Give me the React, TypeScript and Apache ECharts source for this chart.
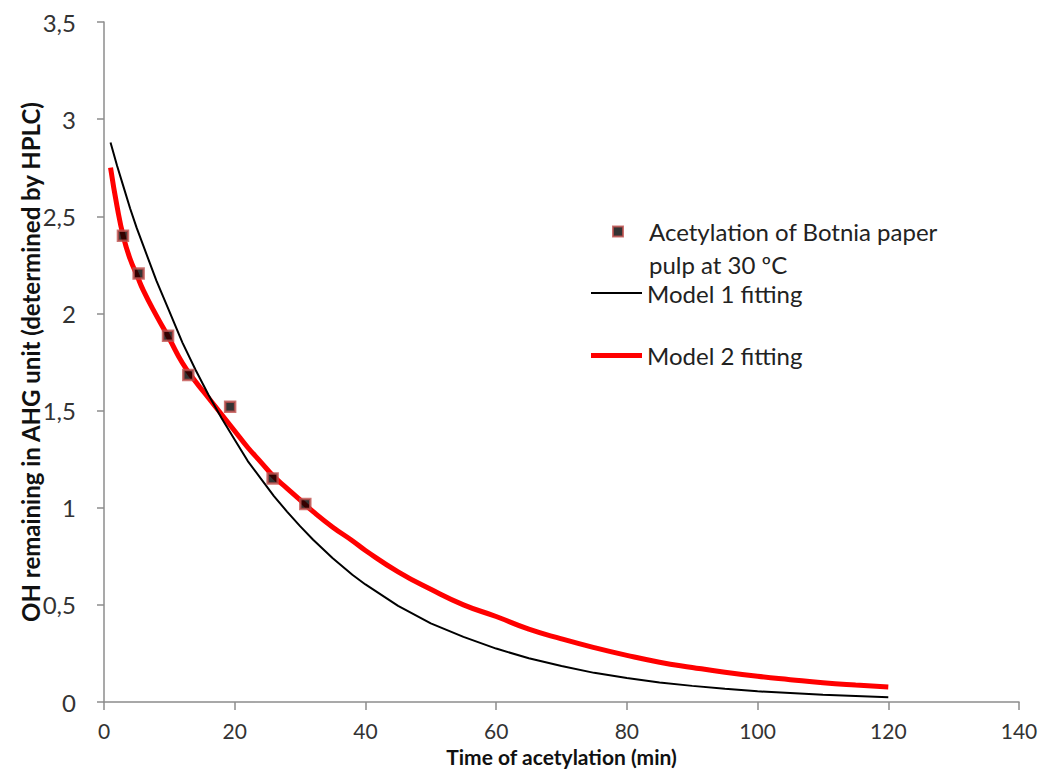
import React, { useEffect, useRef } from "react";
import * as echarts from "echarts";

// Experimental data: time (min), OH remaining
const expTimes = [2.9, 5.3, 9.8, 12.9, 19.3, 25.8, 30.8];
const expValues = [2.40, 2.205, 1.885, 1.683, 1.52, 1.151, 1.019];

// Model curves sampled (time, value)
const modelTimes = [1, 2, 3, 4, 5, 6, 8, 10, 12, 14, 16, 18, 20, 22, 24, 26, 28, 30, 32, 35, 38, 40, 45, 50, 55, 60, 65, 70, 75, 80, 85, 90, 95, 100, 105, 110, 115, 120];
const model1Values = [2.88, 2.76, 2.65, 2.54, 2.44, 2.35, 2.17, 2.01, 1.85, 1.71, 1.58, 1.46, 1.35, 1.24, 1.15, 1.06, 0.98, 0.905, 0.835, 0.74, 0.655, 0.605, 0.495, 0.405, 0.335, 0.275, 0.225, 0.185, 0.15, 0.123, 0.10, 0.083, 0.068, 0.055, 0.046, 0.037, 0.031, 0.025];
const model2Values = [2.75, 2.55, 2.39, 2.28, 2.20, 2.12, 1.99, 1.87, 1.745, 1.65, 1.565, 1.48, 1.395, 1.31, 1.235, 1.16, 1.10, 1.04, 0.98, 0.90, 0.83, 0.78, 0.67, 0.58, 0.50, 0.44, 0.375, 0.325, 0.28, 0.24, 0.205, 0.178, 0.153, 0.132, 0.115, 0.099, 0.087, 0.077];

const seriesNames = ["Acetylation of Botnia paper\npulp at 30 ºC", "Model 1 fitting", "Model 2 fitting"];
const xTitle = "Time of acetylation (min)";
const yTitle = "OH remaining in AHG unit (determined by HPLC)";

const FONT = "Lato, 'Open Sans', sans-serif";

export default function App() {
  const ref = useRef<HTMLDivElement>(null);
  useEffect(() => {
    if (!ref.current) return;
    const chart = echarts.init(ref.current, undefined, { renderer: "svg" });
    const axisColor = "#8c8c8c";
    chart.setOption({
      animation: false,
      backgroundColor: "#ffffff",
      textStyle: { fontFamily: FONT },
      grid: { left: 104, right: 26, top: 22, bottom: 67, containLabel: false, outerBoundsMode: "none" },
      legend: [
        {
          data: [seriesNames[0]],
          left: 612,
          top: 182,
          padding: 0,
          itemWidth: 10,
          itemHeight: 10,
          formatter: (name: string) => "\n" + name,
          textStyle: { fontFamily: FONT, fontSize: 24, color: "#222", lineHeight: 33, padding: [0, 0, 0, 21] },
        },
        {
          data: [{ name: seriesNames[1], icon: "rect" }],
          left: 591,
          top: 281,
          padding: 0,
          itemWidth: 51,
          itemHeight: 2,
          textStyle: { fontFamily: FONT, fontSize: 24, color: "#222" },
        },
        {
          data: [{ name: seriesNames[2], icon: "rect" }],
          left: 591,
          top: 343.5,
          padding: 0,
          itemWidth: 51,
          itemHeight: 5,
          textStyle: { fontFamily: FONT, fontSize: 24, color: "#222" },
        },
      ],
      xAxis: {
        type: "value",
        min: 0,
        max: 140,
        interval: 20,
        name: xTitle,
        nameLocation: "middle",
        nameGap: 45,
        nameMoveOverlap: false,
        nameTextStyle: { fontFamily: FONT, fontSize: 21, lineHeight: 18, fontWeight: "bold", color: "#111" },
        axisLine: { show: true, lineStyle: { color: axisColor, width: 1.5 } },
        axisTick: { show: true, inside: false, length: 8, lineStyle: { color: axisColor, width: 1.5 } },
        axisLabel: { fontFamily: FONT, fontSize: 21, lineHeight: 18, color: "#333", margin: 19 },
        splitLine: { show: false },
      },
      yAxis: {
        type: "value",
        min: 0,
        max: 3.5,
        interval: 0.5,
        name: yTitle,
        nameLocation: "middle",
        nameGap: 62,
        nameRotate: 90,
        nameMoveOverlap: false,
        nameTextStyle: { fontFamily: FONT, fontSize: 24, fontWeight: "bold", color: "#111" },
        axisLine: { show: true, lineStyle: { color: axisColor, width: 1.5 } },
        axisTick: { show: true, inside: false, length: 7, lineStyle: { color: axisColor, width: 1.5 } },
        axisLabel: {
          fontFamily: FONT,
          fontSize: 24,
          color: "#333",
          margin: 28,
          formatter: (v: number) => String(v).replace(".", ","),
        },
        splitLine: { show: false },
      },
      series: [
        {
          name: seriesNames[2],
          type: "line",
          data: modelTimes.map((t, i) => [t, model2Values[i]]),
          symbol: "none",
          smooth: true,
          lineStyle: { color: "#ff0000", width: 5 },
          itemStyle: { color: "#ff0000" },
          z: 2,
        },
        {
          name: seriesNames[1],
          type: "line",
          data: modelTimes.map((t, i) => [t, model1Values[i]]),
          symbol: "none",
          lineStyle: { color: "#000000", width: 2 },
          itemStyle: { color: "#000000" },
          z: 3,
        },
        {
          name: seriesNames[0],
          type: "scatter",
          data: expTimes.map((t, i) => [t, expValues[i]]),
          symbol: "rect",
          symbolSize: 10,
          itemStyle: { color: "#000000", borderColor: "#c0504d", borderWidth: 2.5 },
          z: 4,
        },
      ],
    });
    return () => chart.dispose();
  }, []);
  return (
    <div
      ref={ref}
      style={{ position: "absolute", left: 0, top: 0, width: 1045, height: 769 }}
    />
  );
}
